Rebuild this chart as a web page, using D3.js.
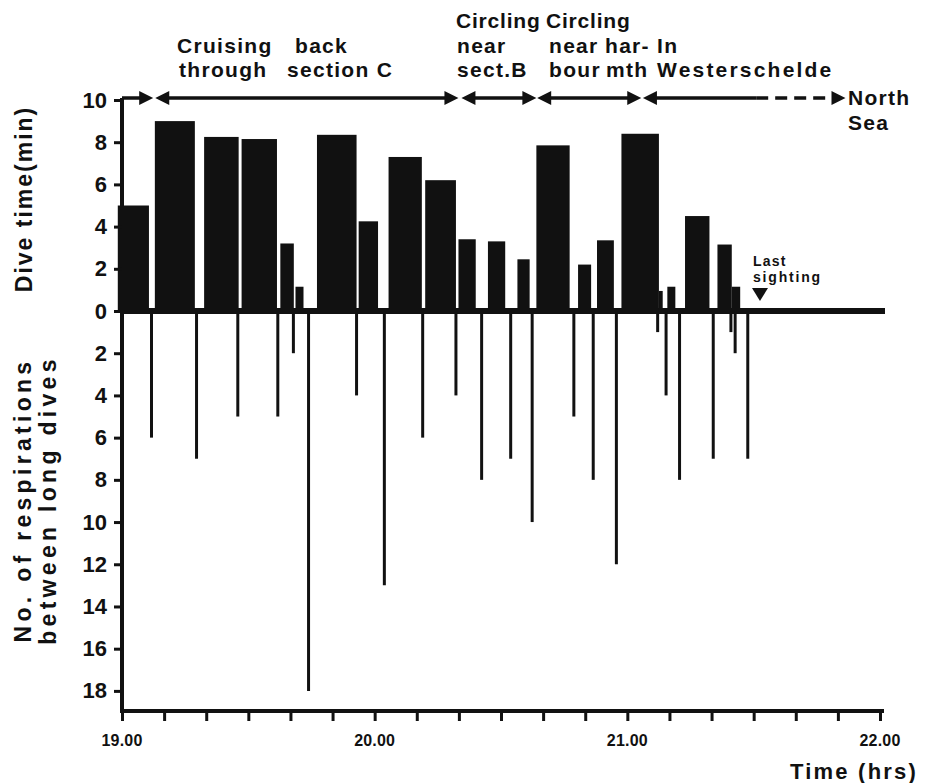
<!DOCTYPE html>
<html>
<head>
<meta charset="utf-8">
<script src="https://cdn.jsdelivr.net/npm/d3@7"></script>
<style>
  body { margin: 0; background: #fff; }
  text { font-family: "Liberation Sans", Arial, sans-serif; font-weight: bold; fill: #111; }
</style>
</head>
<body>
<div id="chart"></div>
<script>
// time is minutes after 19.00
const diveStart = [-1, 7.8, 19.5, 28.4, 37.6, 41.2, 46.3, 56.2, 63.3, 72.0, 79.9, 86.9, 93.9, 98.4, 108.3, 112.8, 118.6, 127.5, 129.5, 133.7, 141.4, 144.8]
const diveEnd   = [6.4, 17.3, 27.7, 36.8, 40.8, 43.1, 55.7, 60.8, 71.2, 79.3, 84.0, 91.0, 96.8, 106.3, 111.4, 116.8, 127.5, 128.4, 131.4, 139.5, 144.8, 146.8]
const diveTime  = [5.0, 9.0, 8.25, 8.15, 3.2, 1.15, 8.35, 4.25, 7.3, 6.2, 3.4, 3.3, 2.45, 7.85, 2.2, 3.35, 8.4, 0.95, 1.15, 4.5, 3.15, 1.15]

const respTime  = [7.0, 17.7, 27.5, 37.0, 40.7, 44.3, 55.7, 62.3, 71.4, 79.3, 85.4, 92.3, 97.4, 107.3, 111.9, 117.4, 127.2, 129.2, 132.4, 140.4, 144.6, 145.6, 148.6]
const respCount = [6, 7, 5, 5, 2, 18, 4, 13, 6, 4, 8, 7, 10, 5, 8, 12, 1, 4, 8, 7, 1, 2, 7]

const topTicks = [0, 2, 4, 6, 8, 10]
const bottomTicks = [2, 4, 6, 8, 10, 12, 14, 16, 18]
const hourTicks = [0, 60, 120, 180]
const hourLabels = ['19.00', '20.00', '21.00', '22.00']

// behaviour phases along the top (minutes)
const phaseFrom = [0, 7.9, 80.6, 98.6, 123.7]
const phaseTo   = [7.4, 79.9, 98.4, 123.3, 150.6]
const dashedTo  = 171.8
const phaseWords = ['Cruising', 'back', 'through', 'section C', 'Circling', 'near', 'sect.B',
  'Circling', 'near', 'har-', 'bour', 'mth', 'In', 'Westerschelde', 'North', 'Sea']
const lastSighting = 151.5

const width = 927, height = 783
const svg = d3.select('#chart').append('svg')
  .attr('width', width).attr('height', height)

const x = d3.scaleLinear().domain([0, 180]).range([122, 880])
const yTop = d3.scaleLinear().domain([0, 10]).range([311, 100])
const yBot = d3.scaleLinear().domain([0, 19]).range([311, 712])

// dive bars
svg.selectAll('rect.dive')
  .data(diveTime)
  .enter().append('rect')
  .attr('class', 'dive')
  .attr('x', (d, i) => x(diveStart[i]))
  .attr('width', (d, i) => x(diveEnd[i]) - x(diveStart[i]))
  .attr('y', d => yTop(d))
  .attr('height', d => yTop(0) - yTop(d))
  .attr('fill', '#111')

// respirations
svg.selectAll('line.resp')
  .data(respCount)
  .enter().append('line')
  .attr('x1', (d, i) => x(respTime[i])).attr('x2', (d, i) => x(respTime[i]))
  .attr('y1', yBot(0)).attr('y2', d => yBot(d))
  .attr('stroke', '#111').attr('stroke-width', 3)

// zero line
svg.append('line')
  .attr('x1', x(0)).attr('x2', 885)
  .attr('y1', yTop(0)).attr('y2', yTop(0))
  .attr('stroke', '#111').attr('stroke-width', 6)

// left axis
svg.append('line')
  .attr('x1', x(0)).attr('x2', x(0))
  .attr('y1', 98).attr('y2', 713)
  .attr('stroke', '#111').attr('stroke-width', 4)

const gTop = svg.append('g').attr('transform', `translate(${x(0)},0)`)
  .call(d3.axisLeft(yTop).tickValues(topTicks).tickSize(8).tickPadding(7).tickFormat(d3.format('d')))
const gBot = svg.append('g').attr('transform', `translate(${x(0)},0)`)
  .call(d3.axisLeft(yBot).tickValues(bottomTicks).tickSize(8).tickPadding(7).tickFormat(d3.format('d')))
;[gTop, gBot].forEach(g => {
  g.select('.domain').remove()
  g.selectAll('.tick line').attr('stroke', '#111').attr('stroke-width', 3)
  g.selectAll('.tick text').attr('font-size', 22).attr('fill', '#111')
    .attr('font-family', '"Liberation Sans", Arial, sans-serif').attr('font-weight', 'bold')
})

// bottom time axis
svg.append('line')
  .attr('x1', x(0) - 2).attr('x2', 884)
  .attr('y1', 711).attr('y2', 711)
  .attr('stroke', '#111').attr('stroke-width', 4)
const gX = svg.append('g').attr('transform', 'translate(0,711)')
  .call(d3.axisBottom(x).tickValues(d3.range(0, 181, 10)).tickSize(10).tickFormat(''))
gX.select('.domain').remove()
gX.selectAll('.tick line').attr('stroke', '#111').attr('stroke-width', 3)
svg.selectAll('text.hour')
  .data(hourTicks)
  .enter().append('text')
  .attr('x', d => x(d)).attr('y', 746)
  .attr('text-anchor', 'middle')
  .attr('font-size', 16).attr('letter-spacing', 0.2)
  .text((d, i) => hourLabels[i])
svg.append('text')
  .attr('x', 918).attr('y', 779)
  .attr('text-anchor', 'end')
  .attr('font-size', 22).attr('letter-spacing', 2.2)
  .text('Time (hrs)')

// axis titles
svg.append('text')
  .attr('transform', 'translate(32,199) rotate(-90)')
  .attr('text-anchor', 'middle')
  .attr('font-size', 23).attr('letter-spacing', 2)
  .text('Dive time(min)')
svg.append('text')
  .attr('transform', 'translate(31,500) rotate(-90)')
  .attr('text-anchor', 'middle')
  .attr('font-size', 23).attr('letter-spacing', 4.3)
  .text('No. of respirations')
svg.append('text')
  .attr('transform', 'translate(56,500) rotate(-90)')
  .attr('text-anchor', 'middle')
  .attr('font-size', 23).attr('letter-spacing', 4.3)
  .text('between long dives')

// phase arrows
const arrowY = 98
const head = (tip, dir) => {
  const px = x(tip)
  return `M${px},${arrowY} L${px - dir * 14},${arrowY - 7} L${px - dir * 14},${arrowY + 7} Z`
}
phaseFrom.forEach((f, i) => {
  svg.append('line')
    .attr('x1', x(f) + (i > 0 ? 8 : 0)).attr('x2', x(phaseTo[i]) - (i < phaseFrom.length - 1 ? 8 : 0))
    .attr('y1', arrowY).attr('y2', arrowY)
    .attr('stroke', '#111').attr('stroke-width', 3.5)
  if (i > 0) svg.append('path').attr('d', head(f, -1)).attr('fill', '#111')
  if (i < phaseFrom.length - 1) svg.append('path').attr('d', head(phaseTo[i], 1)).attr('fill', '#111')
})
svg.append('line')
  .attr('x1', x(phaseTo[phaseTo.length - 1])).attr('x2', x(dashedTo) - 8)
  .attr('y1', arrowY).attr('y2', arrowY)
  .attr('stroke', '#111').attr('stroke-width', 3.5)
  .attr('stroke-dasharray', '12,7')
svg.append('path').attr('d', head(dashedTo, 1)).attr('fill', '#111')

// phase labels, one entry per word: [x, baseline]
const wordPos = [[177, 53], [295, 53], [179, 77], [287, 77], [456, 28], [457, 53], [457, 77],
  [546, 28], [549, 53], [605, 53], [549, 77], [606, 77], [657, 53], [657, 77], [848, 105], [848, 130]]
svg.selectAll('text.phase')
  .data(phaseWords)
  .enter().append('text')
  .attr('class', 'phase')
  .attr('x', (d, i) => wordPos[i][0]).attr('y', (d, i) => wordPos[i][1])
  .attr('font-size', 21).attr('letter-spacing', d => d === 'Circling' ? 0.8 : (d === 'Westerschelde' ? 2.2 : 1.3))
  .text(d => d)

// last sighting
svg.append('text').attr('x', 753).attr('y', 266)
  .attr('font-size', 14).attr('letter-spacing', 1.2).text('Last')
svg.append('text').attr('x', 753).attr('y', 282)
  .attr('font-size', 14).attr('letter-spacing', 1.8).text('sighting')
const ls = x(lastSighting)
svg.append('path')
  .attr('d', `M${ls - 8},288 L${ls + 8},288 L${ls},301 Z`)
  .attr('fill', '#111')
</script>
</body>
</html>
